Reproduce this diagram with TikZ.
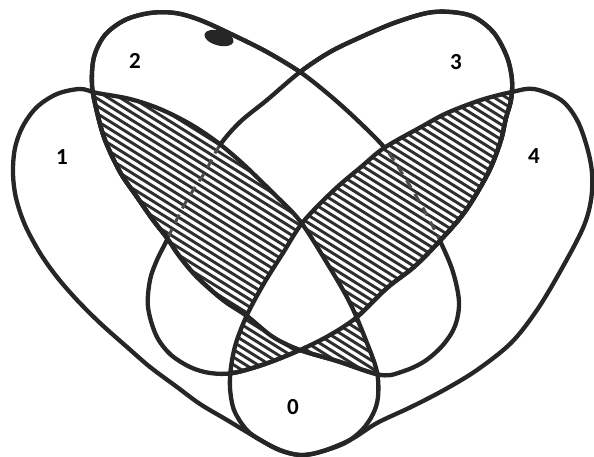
\documentclass[tikz,border=0pt]{standalone}
\usepackage{fontspec}
\setmainfont{Carlito}[BoldFont={Carlito Bold}]
\begin{document}
\begin{tikzpicture}[x=1pt,y=-1pt,
  outline/.style={line width=4.3pt, draw=black!85, line join=round},
  faint/.style={line width=3pt, draw=black!70, dash pattern=on 9pt off 7pt},
  hatchline/.style={line width=2.9pt, draw=black!82},
  lbl/.style={font=\fontsize{23}{23}\selectfont\bfseries, text=black}]
\def\EA{plot[smooth cycle,tension=0.55] coordinates {(37,107) (57,94) (80,89) (97,93) (130,99) (160,109) (190,124) (217,142) (242,163) (272,192) (300,221) (327,263) (350,303) (367,343) (377,372) (378,397) (373,414) (362,430) (345,443) (320,452) (300,455) (279,450) (257,438) (227,420) (200,404) (177,387) (150,367) (127,347) (100,323) (77,300) (57,277) (40,253) (25,225) (16,198) (13,173) (15,148) (23,126)}}
\def\EB{plot[smooth cycle,tension=0.55] coordinates {(94,57) (105,35) (125,20) (150,13) (175,13) (200,20) (233,35) (267,52) (300,72) (327,93) (354,117) (384,147) (402,173) (423,208) (441,243) (453,272) (459,302) (455,326) (443,345) (425,361) (404,371) (381,375) (337,361) (300,350) (273,337) (247,316) (223,300) (197,277) (180,257) (167,238) (153,220) (137,197) (120,172) (105,140) (97,112) (92,85)}}
\def\EC{plot[smooth cycle,tension=0.55] coordinates {(361,37) (394,23) (427,13) (451,12) (474,17) (494,33) (507,57) (512,80) (511,100) (506,118) (501,140) (491,167) (477,193) (461,217) (437,244) (414,267) (387,288) (357,317) (330,335) (300,350) (265,364) (233,373) (210,373) (190,367) (170,354) (156,335) (148,307) (150,280) (157,260) (167,240) (174,225) (187,200) (205,172) (220,145) (240,122) (267,100) (300,72) (330,52)}}
\def\ED{plot[smooth cycle,tension=0.55] coordinates {(512,92) (534,89) (561,100) (577,120) (587,147) (592,173) (591,200) (583,228) (561,270) (537,310) (511,343) (477,370) (444,390) (411,407) (377,423) (350,440) (320,452) (300,455) (280,450) (257,438) (245,428) (234,410) (230,388) (231,367) (236,343) (247,315) (263,285) (283,253) (303,222) (334,190) (361,167) (384,148) (421,127) (447,113) (481,100)}}
\def\OUTER{(-100,-100) -- (-100,560) -- (700,560) -- (700,-100) -- cycle}
\newcommand\hatchfill{\foreach \c in {-320,-313.6,...,392} {\draw[hatchline,rotate=-32] (-20,\c) -- (780,\c);}}
\useasboundingbox (0,0) rectangle (594,457);
\fill[white] (0,0) rectangle (594,457);
% hatched regions
\begin{scope}\clip \EA; \clip \EB; \clip \OUTER \ED; \hatchfill \end{scope}
\begin{scope}\clip \EC; \clip \ED; \clip \OUTER \EA; \hatchfill \end{scope}
\begin{scope}\clip \EA; \clip \EC; \clip \ED; \clip \OUTER \EB; \hatchfill \end{scope}
\begin{scope}\clip \EA; \clip \EB; \clip \ED; \clip \OUTER \EC; \hatchfill \end{scope}
% faint hidden segments
\begin{scope}\clip \EC; \clip \ED; \clip \OUTER \EA; \draw[faint] \EB; \end{scope}
\begin{scope}\clip \EA; \clip \EB; \clip \OUTER \ED; \draw[faint] \EC; \end{scope}
% outlines
\draw[outline] \EA;
\draw[outline] \ED;
\begin{scope}\clip \OUTER \EC; \draw[outline] \EB; \end{scope}
\begin{scope}\clip \OUTER \ED; \draw[outline] \EB; \end{scope}
\begin{scope}\clip \EA; \draw[outline] \EB; \end{scope}
\begin{scope}\clip \OUTER \EA; \draw[outline] \EC; \end{scope}
\begin{scope}\clip \OUTER \EB; \draw[outline] \EC; \end{scope}
\begin{scope}\clip \ED; \draw[outline] \EC; \end{scope}
% ink blot
\fill[black!85, rotate around={-15:(219,38)}] (219,38) ellipse (15 and 7.5);
% labels
\node[lbl] (l1) at (62,157) {1};
\node[lbl] (l2) at (135,61) {2};
\node[lbl] (l3) at (456,62) {3};
\node[lbl] (l4) at (534,156) {4};
\node[lbl] (l0) at (293,407) {0};
\end{tikzpicture}
\end{document}
